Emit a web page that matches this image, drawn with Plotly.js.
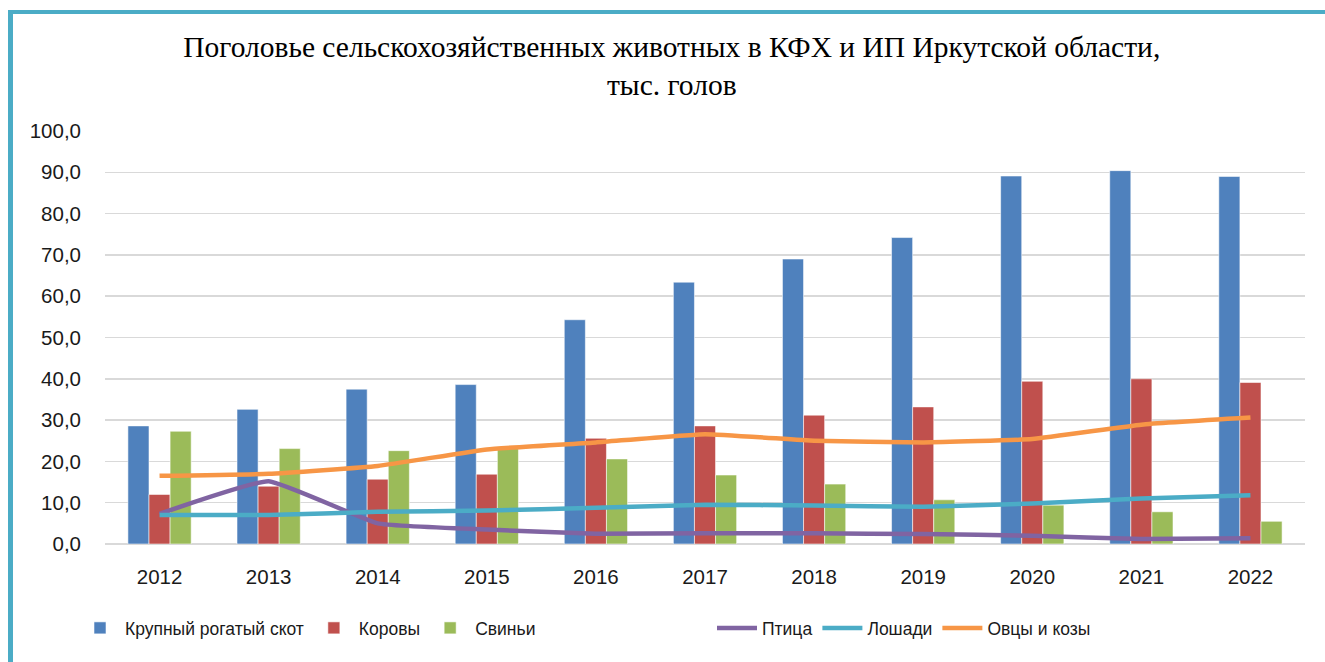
<!DOCTYPE html>
<html>
<head>
<meta charset="utf-8">
<script src="https://cdn.plot.ly/plotly-3.0.1.min.js"></script>
<style>
  html, body { margin: 0; padding: 0; background: #ffffff; }
  #wrap { position: relative; width: 1325px; height: 662px; overflow: hidden; }
  #chart { position: absolute; left: 0; top: 0; width: 1325px; height: 662px; }
  #frame { position: absolute; left: 8px; top: 10px; width: 1400px; height: 700px;
           border-top: 4px solid #4BACC6; border-left: 5px solid #4BACC6; pointer-events: none; }
</style>
</head>
<body>
<div id="wrap">
  <div id="chart"></div>
  <div id="frame"></div>
</div>
<script>
const years = ["2012","2013","2014","2015","2016","2017","2018","2019","2020","2021","2022"];
const cattle = [28.6, 32.6, 37.5, 38.6, 54.3, 63.4, 69.0, 74.2, 89.1, 90.4, 89.0];
const cows   = [12.0, 14.0, 15.7, 16.9, 25.6, 28.6, 31.2, 33.2, 39.4, 40.0, 39.1];
const pigs   = [27.3, 23.1, 22.6, 23.1, 20.6, 16.7, 14.5, 10.7, 9.4, 7.8, 5.5];
const poultry = [7.3, 15.2, 5.0, 3.5, 2.5, 2.6, 2.6, 2.4, 2.0, 1.2, 1.4];
const horses  = [7.0, 7.0, 7.8, 8.1, 8.8, 9.5, 9.3, 9.0, 9.8, 11.0, 11.8];
const sheepGoats = [16.5, 17.0, 18.9, 22.9, 24.6, 26.6, 25.0, 24.6, 25.4, 28.9, 30.6];

const names = ["Крупный рогатый скот","Коровы","Свиньи","Птица","Лошади","Овцы и козы"];
const colors = ["#4F81BD","#C0504D","#9BBB59","#8064A2","#4BACC6","#F79646"];

const barLine = {color: "rgba(255,255,255,0.55)", width: 1};
const lineStyle = (c) => ({color: c, width: 4.5, shape: "spline", smoothing: 0.35});
const traces = [
  {type:"bar", name:names[0], x:years, y:cattle, marker:{color:colors[0], line:barLine}, legend:"legend"},
  {type:"bar", name:names[1], x:years, y:cows, marker:{color:colors[1], line:barLine}, legend:"legend"},
  {type:"bar", name:names[2], x:years, y:pigs, marker:{color:colors[2], line:barLine}, legend:"legend"},
  {type:"scatter", mode:"lines", name:names[3], x:years, y:poultry, line:lineStyle(colors[3]), legend:"legend2"},
  {type:"scatter", mode:"lines", name:names[4], x:years, y:horses, line:lineStyle(colors[4]), legend:"legend2"},
  {type:"scatter", mode:"lines", name:names[5], x:years, y:sheepGoats, line:lineStyle(colors[5]), legend:"legend2"}
];

const legendFont = {family: "Liberation Sans, Arial, sans-serif", size: 17.5, color: "#1a1a1a"};
const legendY = (662-628)/662;

const layout = {
  width: 1325, height: 662,
  paper_bgcolor: "rgba(0,0,0,0)", plot_bgcolor: "rgba(0,0,0,0)",
  separators: ", ",
  margin: {l: 105, r: 20, t: 131, b: 118},
  title: {
    text: "Поголовье сельскохозяйственных животных в КФХ и ИП Иркутской области,<br>тыс. голов",
    font: {family: "Liberation Serif, Times New Roman, serif", size: 29.5, color: "#000000"},
    x: 0.507, xref: "container", xanchor: "center",
    y: 1 - 57/662, yref: "container", yanchor: "top"
  },
  barmode: "group",
  bargap: 0.42,
  bargroupgap: 0,
  xaxis: {
    type: "category",
    showgrid: false, showline: false, zeroline: false,
    ticks: "", ticklabelstandoff: 18,
    tickfont: {family: "Liberation Sans, Arial, sans-serif", size: 20.5, color: "#1a1a1a"}
  },
  yaxis: {
    range: [0, 100], dtick: 10, tickformat: ".1f",
    showgrid: true, gridcolor: "#d9d9d9", gridwidth: 1.5,
    zeroline: true, zerolinecolor: "#d9d9d9", zerolinewidth: 1.5,
    showline: false, ticks: "", ticklabelstandoff: 23,
    tickfont: {family: "Liberation Sans, Arial, sans-serif", size: 20.5, color: "#1a1a1a"}
  },
  showlegend: true,
  legend: {
    orientation: "h", x: 75/1325, xref: "container", xanchor: "left",
    y: legendY, yref: "container", yanchor: "middle",
    font: legendFont, traceorder: "normal", itemwidth: 40
  },
  legend2: {
    orientation: "h", x: 712/1325, xref: "container", xanchor: "left",
    y: legendY, yref: "container", yanchor: "middle",
    font: legendFont, traceorder: "normal", itemwidth: 40
  }
};

Plotly.newPlot("chart", traces, layout, {displayModeBar: false, staticPlot: true});
</script>
</body>
</html>
